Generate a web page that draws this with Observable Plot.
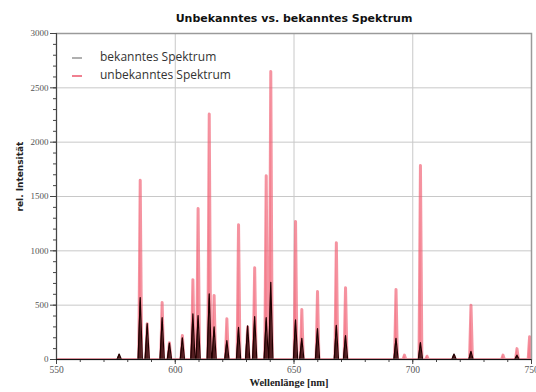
<!DOCTYPE html>
<html>
<head>
<meta charset="utf-8">
<script src="https://cdn.jsdelivr.net/npm/d3@7"></script>
<script src="https://cdn.jsdelivr.net/npm/@observablehq/plot@0.6"></script>
<style>
  html, body { margin: 0; padding: 0; background: #fff; }
  #wrap { position: relative; width: 536px; height: 392px; }
  .leg { position: absolute; left: 72px; font: 12px "Open Sans", sans-serif; color: #333; }
  .leg span.sw { display: inline-block; width: 10px; height: 0; border-top: 2px solid; vertical-align: middle; margin-right: 18px; }
</style>
</head>
<body>
<div id="wrap"></div>
<script>
// Known (bekanntes) spectrum: line positions [nm] and peak intensities
const knownNm  = [576.4, 585.25, 588.19, 594.48, 597.55, 603.0, 607.43, 609.62, 614.31, 616.36, 621.73, 626.65, 630.48, 633.44, 638.30, 640.22, 650.65, 653.29, 659.90, 667.83, 671.70, 692.95, 703.24, 717.39, 724.52, 743.89];
const knownInt = [50, 570, 330, 385, 150, 200, 420, 405, 605, 300, 175, 295, 310, 395, 385, 710, 365, 195, 285, 315, 220, 195, 155, 50, 75, 40];

// Unknown (unbekanntes) spectrum
const unknownNm  = [576.4, 585.25, 588.19, 594.48, 597.55, 603.0, 607.43, 609.62, 614.31, 616.36, 621.73, 626.65, 630.48, 633.44, 638.30, 640.22, 650.65, 653.29, 659.90, 667.83, 671.70, 692.95, 696.5, 703.24, 706.0, 717.39, 724.52, 738.0, 743.89, 749.2];
const unknownInt = [20, 1650, 330, 525, 155, 220, 735, 1390, 2260, 590, 375, 1240, 300, 845, 1690, 2650, 1270, 460, 625, 1075, 660, 645, 40, 1785, 30, 30, 500, 40, 100, 210];

const xTicks = [550, 600, 650, 700, 750];
const yTicks = [0, 500, 1000, 1500, 2000, 2500, 3000];
const xGrid = [600, 650, 700];
const yGrid = [500, 1000, 1500, 2000, 2500];

const titleText = "Unbekanntes vs. bekanntes Spektrum";
const xLabel = "Wellenlänge [nm]";
const yLabel = "rel. Intensität";
const legendLabels = ["bekanntes Spektrum", "unbekanntes Spektrum"];

// Build a spike profile (baseline - peak - baseline) for each line
function profile(nms, ints, hw) {
  const pts = [{x: 550, y: 0}];
  nms.forEach((n, i) => {
    pts.push({x: n - hw, y: 0}, {x: n, y: ints[i]}, {x: n + hw, y: 0});
  });
  pts.push({x: 750, y: 0});
  return pts.sort((a, b) => a.x - b.x);
}
const known = profile(knownNm, knownInt, 0.9);
const unknown = profile(unknownNm, unknownInt, 0.6);

const minorX = d3.range(550, 751, 10);
const minorY = d3.range(0, 3001, 100);
const serif = "Liberation Serif, serif";

const chart = Plot.plot({
  width: 536,
  height: 392,
  marginLeft: 56,
  marginRight: 5,
  marginTop: 33,
  marginBottom: 33,
  x: {domain: [550, 750]},
  y: {domain: [0, 3000]},
  style: {background: "#fff", overflow: "visible"},
  marks: [
    Plot.gridY(yGrid, {stroke: "#c8c8c8", strokeOpacity: 1}),
    Plot.gridX(xGrid, {stroke: "#c8c8c8", strokeOpacity: 1}),
    Plot.areaY(unknown, {x: "x", y: "y", fill: "#ff7080", fillOpacity: 0.45, clip: true}),
    Plot.lineY(unknown, {x: "x", y: "y", stroke: "#f05a6e", strokeWidth: 3, strokeOpacity: 0.65, clip: true}),
    Plot.areaY(known, {x: "x", y: "y", fill: "#2a0505", fillOpacity: 0.8, clip: true}),
    Plot.lineY(known, {x: "x", y: "y", stroke: "#200000", strokeWidth: 1.2, clip: true}),
    Plot.frame({stroke: "#9a9a9a", strokeWidth: 1.5}),
    Plot.axisY(yTicks, {tickSize: 6, tickPadding: 2, tickFormat: d => String(d), fontSize: 9, fontFamily: serif, fill: "#555", stroke: "#444", label: null}),
    Plot.axisY(minorY, {tickSize: 3, tickFormat: () => "", stroke: "#444", label: null}),
    Plot.axisX(xTicks, {tickSize: 5, tickPadding: 2, tickFormat: d => String(d), fontSize: 9.5, fontFamily: serif, fill: "#555", stroke: "#444", label: null}),
    Plot.axisX(minorX, {tickSize: 3, tickFormat: () => "", stroke: "#444", label: null}),
    Plot.ruleY([0], {stroke: "#111", strokeWidth: 1.2}),
    Plot.ruleX([550], {stroke: "#444"}),
    Plot.text([titleText], {frameAnchor: "top", dy: -19, fontSize: 11, fontWeight: "bold", fontFamily: "DejaVu Sans, sans-serif", fill: "#111"}),
    Plot.text([xLabel], {frameAnchor: "bottom", dx: -5, dy: 26, fontSize: 10.5, fontWeight: "bold", fontFamily: serif, fill: "#222"}),
    Plot.text([yLabel], {frameAnchor: "left", dx: -36, dy: 15, rotate: -90, fontSize: 9, fontWeight: "bold", fontFamily: "DejaVu Sans, sans-serif", fill: "#222"})
  ]
});

const wrap = document.getElementById("wrap");
wrap.appendChild(chart);
const legColors = ["#b0b0b0", "#f08090"];
const legTops = [48, 66];
legendLabels.forEach((t, i) => {
  const d = document.createElement("div");
  d.className = "leg";
  d.style.top = legTops[i] + "px";
  d.innerHTML = `<span class="sw" style="border-color:${legColors[i]}"></span>${t}`;
  wrap.appendChild(d);
});
</script>
</body>
</html>
